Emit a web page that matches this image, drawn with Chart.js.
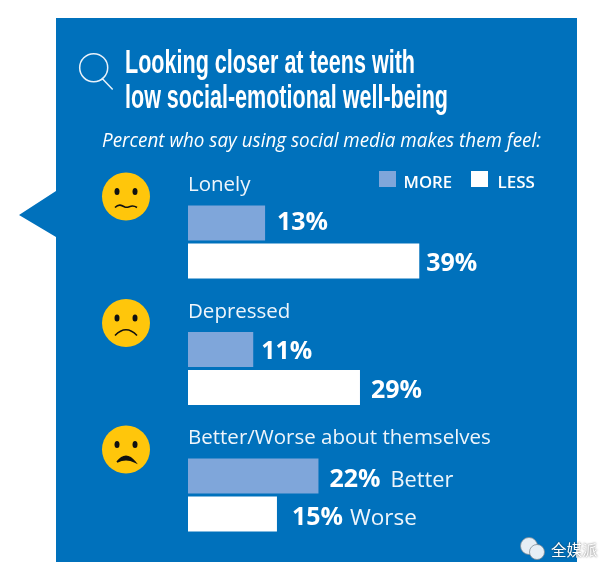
<!DOCTYPE html>
<html>
<head>
<meta charset="utf-8">
<title>Teens with low social-emotional well-being</title>
<script src="https://cdn.jsdelivr.net/npm/chart.js@4/dist/chart.umd.min.js"></script>
<style>
  html, body { margin: 0; padding: 0; background: #fff; }
  canvas { display: block; }
</style>
</head>
<body>
<canvas id="grafico" width="616" height="578"></canvas>
<script>
// Data
const categories = ['Lonely', 'Depressed', 'Better/Worse about themselves'];
const moreValues = [13, 11, 22];
const lessValues = [39, 29, 15];
const moreNotes = ['', '', 'Better'];
const lessNotes = ['', '', 'Worse'];
const titleLines = ['Looking closer at teens with', 'low social-emotional well-being'];
const subtitle = 'Percent who say using social media makes them feel:';
const watermark = '全媒派';

const BLUE = '#0071bc';
const LIGHT = '#7fa6da';
const YELLOW = '#ffc60b';
const BODY = '"Open Sans", "Noto Sans", sans-serif';
const TITLE = 'bold 33px "Liberation Sans Narrow", "Liberation Sans", sans-serif';

// label nudges: [gap after the bar, baseline below bar centre]
const moreNudge = [[12, 7], [8, 9], [11, 11]];
const lessNudge = [[7, 10], [11, 11], [15, 11]];

function text(ctx, str, x, y, font, color, maxWidth) {
  ctx.font = font;
  ctx.fillStyle = color;
  ctx.textAlign = 'left';
  ctx.textBaseline = 'alphabetic';
  if (maxWidth) ctx.fillText(str, x, y, maxWidth);
  else ctx.fillText(str, x, y);
}

function drawFace(ctx, cx, cy, kind) {
  ctx.fillStyle = YELLOW;
  ctx.beginPath();
  ctx.arc(cx, cy, 24, 0, Math.PI * 2);
  ctx.fill();
  ctx.fillStyle = '#111';
  [-9, 9].forEach(dx => {
    ctx.beginPath();
    ctx.ellipse(cx + dx, cy - 5, 2.5, 3.5, 0, 0, Math.PI * 2);
    ctx.fill();
  });
  ctx.strokeStyle = '#111';
  ctx.lineWidth = 1.6;
  ctx.beginPath();
  if (kind === 0) {
    ctx.moveTo(cx - 11, cy + 11);
    ctx.bezierCurveTo(cx - 7, cy + 7, cx - 4, cy + 9, cx - 1, cy + 10.5);
    ctx.bezierCurveTo(cx + 3, cy + 12, cx + 5, cy + 7, cx + 11, cy + 11);
    ctx.stroke();
  } else if (kind === 1) {
    ctx.moveTo(cx - 11, cy + 12.5);
    ctx.quadraticCurveTo(cx, cy + 1, cx + 11, cy + 12.5);
    ctx.stroke();
  } else {
    ctx.moveTo(cx - 9, cy + 12.5);
    ctx.quadraticCurveTo(cx, cy + 1, cx + 9, cy + 12.5);
    ctx.quadraticCurveTo(cx, cy + 8, cx - 9, cy + 12.5);
    ctx.fill();
    ctx.stroke();
  }
}

const panelPlugin = {
  id: 'panel',
  beforeDraw(chart) {
    const ctx = chart.ctx;
    ctx.save();
    ctx.fillStyle = BLUE;
    ctx.beginPath();
    ctx.moveTo(56, 18);
    ctx.lineTo(577, 18);
    ctx.lineTo(577, 562);
    ctx.lineTo(56, 562);
    ctx.lineTo(56, 237);
    ctx.lineTo(19, 215);
    ctx.lineTo(56, 191);
    ctx.closePath();
    ctx.fill();

    // magnifier
    ctx.strokeStyle = '#e8f1fa';
    ctx.lineWidth = 1.5;
    ctx.beginPath();
    ctx.arc(93.7, 67.7, 14, 0, Math.PI * 2);
    ctx.moveTo(101.7, 78);
    ctx.lineTo(112.7, 89.5);
    ctx.stroke();

    text(ctx, titleLines[0], 125, 73, TITLE, '#fff', 290);
    text(ctx, titleLines[1], 125, 108, TITLE, '#fff', 323);
    text(ctx, subtitle, 102, 147, 'italic 20px ' + BODY, '#fff', 439);
    ctx.restore();
  },
  afterDatasetsDraw(chart) {
    const ctx = chart.ctx;
    const y = chart.scales.y;
    const more = chart.getDatasetMeta(0).data;
    const less = chart.getDatasetMeta(1).data;
    ctx.save();

    // legend, from the datasets
    const legendSpots = [[379, 403.5, 48.5], [471, 497.5, 38]];
    chart.data.datasets.forEach((ds, i) => {
      const [bx, tx, w] = legendSpots[i];
      ctx.fillStyle = ds.backgroundColor;
      ctx.fillRect(bx, 171, 17, 16);
      text(ctx, ds.label, tx, 188, '600 17px ' + BODY, '#fff', w);
    });

    categories.forEach((name, i) => {
      const mid = y.getPixelForValue(i);
      drawFace(ctx, 126, mid - 45.5, i);
      text(ctx, name, 188, mid - 51, '20.5px ' + BODY, '#eef5fb', 303);

      const pct = 'bold 25px ' + BODY;
      const mx = more[i].x + moreNudge[i][0];
      const my = more[i].y + moreNudge[i][1];
      const lx = less[i].x + lessNudge[i][0];
      const ly = less[i].y + lessNudge[i][1];
      const moreLabel = moreValues[i] + '%';
      const lessLabel = lessValues[i] + '%';
      text(ctx, moreLabel, mx, my, pct, '#fff', 51);
      text(ctx, lessLabel, lx, ly, pct, '#fff', 51);
      if (moreNotes[i]) text(ctx, moreNotes[i], mx + 61, my, '22.5px ' + BODY, '#eef5fb', 63);
      if (lessNotes[i]) text(ctx, lessNotes[i], lx + 58, ly, '22.5px ' + BODY, '#eef5fb', 68);
    });

    // watermark
    ctx.fillStyle = '#e6eef5';
    ctx.strokeStyle = '#7f8c96';
    ctx.lineWidth = 0.8;
    [[529, 546, 8.5], [537, 552, 7.5]].forEach(([x, yy, r]) => {
      ctx.beginPath();
      ctx.arc(x, yy, r, 0, Math.PI * 2);
      ctx.fill();
      ctx.stroke();
    });
    ctx.shadowColor = 'rgba(40,40,40,0.8)';
    ctx.shadowBlur = 2;
    text(ctx, watermark, 551, 556, '15.5px "Noto Sans CJK SC", sans-serif', '#fff');
    ctx.restore();
  }
};

new Chart(document.getElementById('grafico'), {
  type: 'bar',
  data: {
    labels: categories,
    datasets: [
      { label: 'MORE', data: moreValues, backgroundColor: LIGHT },
      { label: 'LESS', data: lessValues, backgroundColor: '#ffffff' }
    ]
  },
  options: {
    indexAxis: 'y',
    responsive: false,
    animation: false,
    categoryPercentage: 0.6,
    barPercentage: 0.92,
    layout: { padding: { left: 188, right: 72.2, top: 178.75, bottom: 19.75 } },
    scales: {
      x: { display: false, min: 0, max: 60 },
      y: { display: false }
    },
    plugins: {
      legend: { display: false },
      title: { display: false },
      tooltip: { enabled: false }
    }
  },
  plugins: [panelPlugin]
});
</script>
</body>
</html>
